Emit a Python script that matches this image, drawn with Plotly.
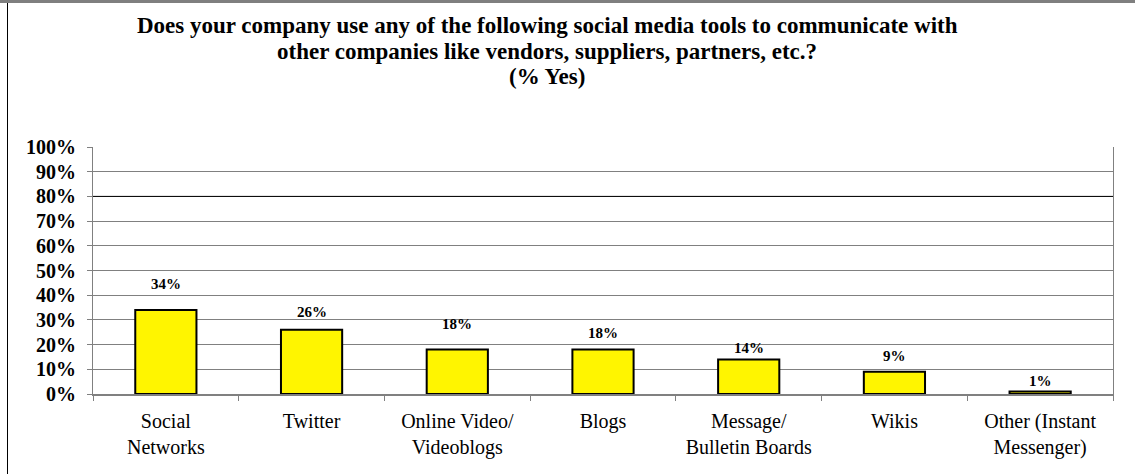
import plotly.graph_objects as go

categories = ["Social<br>Networks", "Twitter", "Online Video/<br>Videoblogs", "Blogs",
              "Message/<br>Bulletin Boards", "Wikis", "Other (Instant<br>Messenger)"]
values = [34, 26, 18, 18, 14, 9, 1]
value_labels = ["34%", "26%", "18%", "18%", "14%", "9%", "1%"]
label_offsets = [26, 18, 26, 17, 11, 16, 11]  # px above bar top (as in the original)
y_ticks = [0, 10, 20, 30, 40, 50, 60, 70, 80, 90, 100]
y_tick_labels = [f"{v}%" for v in y_ticks]
title_lines = [
    "Does your company use any of the following social media tools to communicate with",
    "other companies like vendors, suppliers, partners, etc.?",
    "(% Yes)",
]

W, H = 1135, 474
L, R, T, B = 93, 22, 147, 80
pw, ph = W - L - R, H - T - B

def px_x(x):
    return (x - L) / pw

def px_y(y):
    return (H - B - y) / ph

serif = "Liberation Serif, Times New Roman, serif"

fig = go.Figure()
fig.add_trace(go.Bar(
    x=categories, y=values,
    marker=dict(color="#FFF500", line=dict(color="#000000", width=2)),
    width=0.42,
    hoverinfo="skip",
))

annotations = []
for c, v, t, off in zip(categories, values, value_labels, label_offsets):
    annotations.append(dict(x=c, y=v, xref="x", yref="y", text=f"<b>{t}</b>", showarrow=False,
                            yanchor="middle", yshift=off,
                            font=dict(family=serif, size=15, color="#000000")))

for line, cy in zip(title_lines, [26, 51, 76]):
    annotations.append(dict(
        x=px_x(547), y=px_y(cy), xref="paper", yref="paper", xanchor="center", yanchor="middle",
        text=f"<b>{line}</b>", showarrow=False,
        font=dict(family=serif, size=23, color="#000000")))

shapes = [
    # outer frame
    dict(type="line", xref="paper", yref="paper", x0=px_x(7.5), x1=px_x(7.5),
         y0=px_y(474), y1=px_y(2), line=dict(color="#000000", width=1)),
    dict(type="line", xref="paper", yref="paper", x0=px_x(0), x1=px_x(1135),
         y0=px_y(1.5), y1=px_y(1.5), line=dict(color="#7F7F7F", width=3)),
    # darker 80% gridline
    dict(type="line", xref="paper", yref="y", x0=0, x1=1, y0=80, y1=80,
         line=dict(color="#000000", width=1), layer="above"),
]

fig.update_layout(
    width=W, height=H,
    margin=dict(l=L, r=R, t=T, b=B, pad=0),
    paper_bgcolor="#FFFFFF", plot_bgcolor="#FFFFFF",
    showlegend=False,
    bargap=0.58,
    annotations=annotations,
    shapes=shapes,
    xaxis=dict(
        type="category", tickson="boundaries", ticks="outside", ticklen=5,
        tickcolor="#808080", showline=True, linecolor="#808080", linewidth=2,
        showgrid=False, ticklabelstandoff=8,
        tickfont=dict(family=serif, size=20, color="#000000"),
    ),
    yaxis=dict(
        range=[0, 100], tickvals=y_ticks, ticktext=[f"<b>{t}</b>" for t in y_tick_labels],
        ticks="outside", ticklen=5, tickcolor="#808080", ticklabelstandoff=7,
        showline=True, linecolor="#808080", linewidth=1, mirror=True,
        showgrid=True, gridcolor="#808080", gridwidth=1, zeroline=False,
        tickfont=dict(family=serif, size=20, color="#000000"),
    ),
)

fig.write_html("out.html", config={"displayModeBar": False},
               post_script="document.body.style.margin='0';document.body.style.overflow='hidden';")
